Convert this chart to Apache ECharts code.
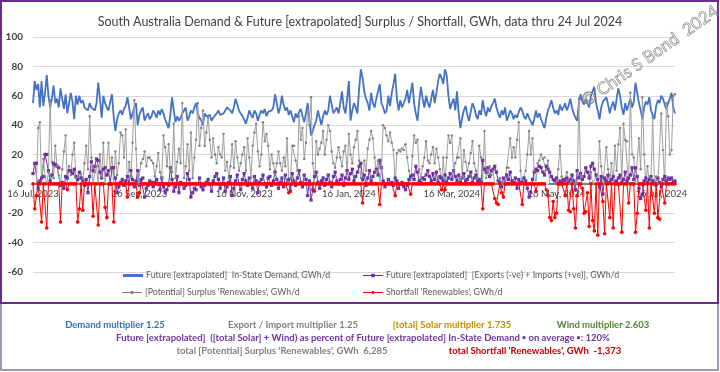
<!DOCTYPE html>
<html><head><meta charset="utf-8">
<script src="https://cdn.jsdelivr.net/npm/echarts@6/dist/echarts.min.js"></script>
<style>html,body{margin:0;padding:0;background:#fff}#c{width:720px;height:372px}</style>
</head><body><div id="c"></div>
<script>
// ---- data ----
const startDate = [2023, 6, 16]; // 16 Jul 2023 (month 0-based)
const dayCount = 375;            // through 24 Jul 2024
const monthNames = ['Jan','Feb','Mar','Apr','May','Jun','Jul','Aug','Sep','Oct','Nov','Dec'];
const tickLabels = ['16 Jul, 2023','16 Sep, 2023','16 Nov, 2023','16 Jan, 2024','16 Mar, 2024','16 May, 2024','16 Jul, 2024'];
const yTicks = { min: -60, max: 100, step: 20 };

// Future [extrapolated] In-State Demand, GWh/d
const demand = [
 55,70,64,68,52,70,53,62,74,60,52,58,67,55,58,52,
 65,58,51,61,48,55,62,56,44,60,54,60,55,57,52,53,50,55,52,53,50,55,69,58,45,60,55,52,50,56,61,
 46,36,44,48,50,47,51,53,59,52,44,48,52,55,40,47,50,52,43,46,48,44,46,50,48,45,50,47,51,48,
 44,41,38,47,59,50,42,46,43,45,48,50,52,43,46,50,48,52,55,48,45,43,40,48,46,45,47,43,45,46,48,
 50,47,46,48,50,52,53,50,48,52,58,54,50,48,46,44,41,45,50,47,45,50,48,43,47,50,48,51,46,49,
 48,50,52,61,55,48,52,60,54,50,52,47,50,46,42,48,45,49,51,46,42,48,55,44,33,36,40,43,50,45,40,
 46,50,47,50,60,54,48,50,52,48,55,63,52,48,58,70,43,50,55,52,48,65,78,72,63,58,55,50,62,55,52,
 58,63,68,55,52,48,50,60,53,62,68,75,58,50,57,52,51,58,64,55,62,69,55,48,43,56,66,58,52,
 60,55,52,58,64,55,62,70,75,72,68,78,74,60,51,55,58,50,63,48,38,45,50,53,47,43,49,55,52,47,44,
 50,47,57,50,46,52,49,53,55,58,52,48,45,50,47,52,43,46,50,48,44,47,45,49,52,50,46,44,48,45,
 46,40,44,50,45,48,44,41,38,45,50,53,57,52,48,50,47,54,50,52,55,50,53,58,52,48,45,43,55,61,56,
 54,58,57,52,60,63,66,55,50,44,52,56,55,59,54,48,53,56,50,58,65,60,52,47,55,50,54,58,52,56,
 69,62,55,50,44,52,56,54,59,50,47,44,53,57,55,60,58,54,51,55,58,62,52,48
];

// Future [extrapolated] [Exports (-ve) + Imports (+ve)], GWh/d
const tradeFlow = [
 7,14,14,-3,2,4,5,20,20,9,2,6,14,13,12,11,
 -1,1,-3,5,4,9,9,7,10,5,3,8,4,2,-1,3,-6,5,15,9,12,17,16,8,4,10,11,6,9,0,11,
 11,4,-6,-2,1,3,-1,2,5,0,9,3,-2,2,9,-1,3,4,-9,-3,-1,2,1,-2,1,3,0,-4,4,-2,
 -6,-4,-1,11,3,-5,-2,5,-6,1,0,-3,-1,7,3,-9,-6,-3,-4,0,4,-2,-4,-1,1,3,0,-5,2,5,7,
 3,-3,0,4,-5,-2,1,5,-8,-3,2,6,0,-4,3,7,2,-1,4,0,-3,5,2,-6,1,3,6,0,-2,4,
 5,-1,2,8,3,-3,1,4,-2,6,0,3,-5,7,2,-1,4,9,1,-2,6,3,-8,2,-11,-4,5,8,1,-3,2,
 4,-1,3,6,1,-2,5,8,2,0,3,6,-1,4,9,3,7,10,2,5,8,12,14,3,6,-1,4,9,2,5,8,
 10,6,16,11,2,-2,0,3,0,1,-1,4,2,-3,0,1,-2,-4,-1,3,5,6,3,12,8,2,1,4,3,
 6,9,5,2,7,3,8,1,5,4,2,6,1,4,7,3,9,5,2,6,1,4,7,2,3,5,8,1,4,6,2,
 3,1,16,10,8,11,5,9,10,12,8,2,1,-2,4,0,6,3,8,2,1,4,-3,3,1,1,4,2,-3,-9,
 -6,3,8,10,9,12,11,8,6,12,10,8,5,3,2,4,0,2,1,3,2,4,1,3,6,2,-4,9,4,7,3,
 5,11,8,4,12,14,10,6,3,-2,5,-7,4,2,6,1,3,5,0,2,4,6,1,3,8,2,4,6,11,3,
 11,5,-3,-10,-7,2,4,1,3,5,2,0,-1,4,1,-2,3,5,2,4,3,4,1,2
];

// [Potential] Surplus 'Renewables', GWh/d
const surplus = [
 0,0,0,38,42,0,17,5,0,8,57,15,4,26,12,6,
 0,10,22,33,0,12,6,20,28,4,0,0,7,0,14,26,10,46,18,0,8,12,0,20,5,28,0,0,28,10,18,
 0,22,6,14,35,33,18,37,0,15,5,28,57,24,0,0,14,17,22,12,18,18,16,14,5,12,21,8,4,33,
 25,12,27,11,8,41,4,15,24,14,55,4,12,27,9,35,4,18,30,55,26,38,50,26,35,45,30,18,31,20,14,
 25,20,18,34,9,15,4,12,27,11,29,18,9,14,20,25,9,31,18,4,26,35,41,22,12,20,42,29,34,26,
 10,20,14,7,14,22,14,9,18,12,31,0,4,26,26,16,9,46,30,38,17,28,51,40,59,14,0,29,20,24,28,
 36,20,30,40,36,22,14,11,18,25,18,12,22,26,7,34,20,14,25,30,36,16,4,0,16,9,24,30,36,31,18,
 9,16,0,11,40,38,33,29,35,28,23,0,21,23,22,24,23,27,18,9,0,19,33,28,30,10,4,12,18,
 29,16,14,20,25,14,24,18,10,0,18,0,18,33,28,33,9,14,18,18,31,4,23,15,9,14,21,29,14,9,4,
 26,18,0,36,4,8,12,6,9,0,0,0,4,0,0,2,11,11,31,18,25,18,30,42,9,0,1,9,20,36,
 20,31,9,0,14,16,20,17,18,10,16,0,0,0,0,0,10,26,5,0,0,8,0,0,2,0,0,0,58,6,0,
 0,0,0,0,8,0,0,5,0,29,12,0,0,25,10,0,14,0,26,9,27,38,0,41,30,29,0,62,20,18,
 0,0,31,10,59,20,0,12,0,4,45,0,5,0,0,48,23,0,55,46,20,23,60,61
];

// Shortfall 'Renewables', GWh/d
const shortfall = [
 0,-17,-8,0,0,-26,0,0,-30,0,0,0,0,0,0,0,
 -26,0,0,0,-4,0,0,0,0,0,-26,-17,0,-18,0,0,0,0,0,-22,0,0,-28,0,0,0,-16,-23,0,0,0,
 -26,0,0,0,0,0,0,0,-9,0,0,0,0,0,-9,-6,0,0,0,0,0,0,0,0,0,0,0,0,0,0,
 0,0,0,0,0,0,0,0,0,0,0,0,0,0,0,0,0,0,0,0,0,0,0,0,0,0,0,0,0,0,0,
 0,0,0,0,0,0,0,0,0,0,0,0,0,0,0,0,0,0,0,0,0,0,0,0,0,0,0,0,0,0,
 0,0,0,0,0,0,0,0,0,0,0,-6,0,0,0,0,0,0,0,0,0,0,0,0,0,0,-5,0,0,0,0,
 0,0,0,0,0,0,0,0,0,0,0,0,0,0,0,0,0,0,0,0,0,0,0,-13,0,0,0,0,0,0,0,
 0,0,-14,0,0,0,0,0,0,0,0,-8,0,0,0,0,0,0,0,0,-7,0,0,0,0,0,0,0,0,
 0,0,0,0,0,0,0,0,0,-4,0,-4,0,0,0,0,0,0,0,0,0,0,0,0,0,0,0,0,0,0,0,
 0,0,-17,0,0,0,0,0,0,-10,-13,-14,0,-6,-9,0,0,0,0,0,0,0,0,0,0,-14,0,0,0,0,
 0,0,0,-5,0,0,0,0,0,-4,-8,-23,-25,-12,-23,-20,0,0,0,0,-8,0,-18,-19,0,-17,-30,-8,0,0,-3,
 -20,-19,-6,-29,0,-25,-32,0,-35,0,0,-12,-34,0,0,-23,0,-30,0,0,0,0,-33,0,0,0,-13,0,0,0,
 -33,-20,0,0,0,0,-18,0,-30,0,0,-20,0,-23,-24,0,0,-13,0,0,0,0,0,0
];

// ---- build ----
const categories = [];
for (let i = 0; i < dayCount; i++) {
  const d = new Date(Date.UTC(startDate[0], startDate[1], startDate[2] + i));
  categories.push(d.getUTCDate() + ' ' + monthNames[d.getUTCMonth()] + ', ' + d.getUTCFullYear());
}
const tickSet = new Set(tickLabels);

const names = [
  'Future [extrapolated]  In-State Demand, GWh/d',
  'Future [extrapolated]  [Exports (-ve) + Imports (+ve)], GWh/d',
  "[Potential] Surplus 'Renewables', GWh/d",
  "Shortfall 'Renewables', GWh/d"
];
const FONT = 'Lato, "Liberation Sans", sans-serif';

const chart = echarts.init(document.getElementById('c'), null, {renderer: 'canvas'});
const warn = [demand, tradeFlow, surplus, shortfall].some(a => a.length !== dayCount);

// grid geometry
const gridTop = 37, gridBottom = 100, chartH = 372;
const plotH = chartH - gridTop - gridBottom;
const zeroOffset = -plotH * (0 - yTicks.min) / (yTicks.max - yTicks.min);

// legend icons: line with a small marker
const ICON_BLUE = 'path://M0,0 L20,0 L20,3 L0,3 Z';
const ICON_PURPLE = 'path://M0,1.3 L20,1.3 L20,2.3 L0,2.3 Z M8.2,0 L11.8,0 L11.8,3.6 L8.2,3.6 Z';
const ICON_GRAY = 'path://M0,1.1 L20,1.1 L20,2.1 L0,2.1 Z M8.6,0 L11.4,0 L11.4,3.2 L8.6,3.2 Z';
const ICON_RED = 'path://M0,1.6 L20,1.6 L20,2.6 L0,2.6 Z M10,0 L12.1,2.1 L10,4.2 L7.9,2.1 Z';

function legendAt(name, left, top, icon, h) {
  return {
    data: [{name: name, icon: icon}], left: left, top: top, itemWidth: 20, itemHeight: h, itemGap: 0,
    selectedMode: false, padding: 0,
    textStyle: {color: '#595959', fontSize: 8.8, fontFamily: FONT, padding: [0, 0, 0, -2]}
  };
}

const bottomTexts = [
  ['Demand multiplier 1.25', 115, 325, '#2E74B5'],
  ['Export / Import multiplier 1.25', 293, 325, '#7F7F7F'],
  ['[total] Solar multiplier 1.735', 452, 325, '#BF9000'],
  ['Wind multiplier 2.603', 603, 325, '#548235'],
  ['Future [extrapolated]  ([total Solar] + Wind) as percent of Future [extrapolated] In-State Demand \u25AA on average \u25AA: 120%', 363, 338, '#7030A0'],
  ["total [Potential] Surplus 'Renewables', GWh  6,285", 282, 351, '#7F7F7F'],
  ["total Shortfall 'Renewables', GWh  -1,373", 535, 351, '#C00000']
];

const graphics = [
  {type: 'rect', shape: {x: 1, y: 303, width: 717, height: 67}, style: {fill: '#fff', stroke: '#A297B6', lineWidth: 2}, z: -10},
  {type: 'rect', shape: {x: 1, y: 1, width: 717, height: 302}, style: {fill: 'rgba(0,0,0,0)', stroke: '#6A2D8E', lineWidth: 2}, z: 10},
  {type: 'text', x: 650, y: 56, rotation: 0.61, z: 20,
   style: {text: '\u00A9 Chris S Bond  2024', fill: 'rgba(255,255,255,0)', stroke: '#8E8E8E', lineWidth: 0.7,
           font: '17px ' + FONT, textAlign: 'center', textVerticalAlign: 'middle'}}
];
bottomTexts.forEach(t => graphics.push({type: 'text', x: t[1], y: t[2], z: 5,
  style: {text: t[0], fill: t[3], font: 'bold 9.5px ' + FONT, textAlign: 'center', textVerticalAlign: 'middle'}}));
if (warn) graphics.push({type: 'text', x: 300, y: 150, style: {text: 'LENGTH MISMATCH ' + [demand.length, tradeFlow.length, surplus.length, shortfall.length].join(','), fill: '#000', font: 'bold 16px sans-serif'}});

chart.setOption({
  animation: false,
  backgroundColor: '#ffffff',
  title: {
    text: 'South Australia Demand & Future [extrapolated] Surplus / Shortfall, GWh, data thru 24 Jul 2024',
    left: 'center', top: 10,
    textStyle: {color: '#404040', fontSize: 12.5, fontWeight: 'normal', fontFamily: FONT}
  },
  grid: {left: 33, right: 45, top: gridTop, bottom: gridBottom, containLabel: false},
  legend: [
    legendAt(names[0], 123, 271, ICON_BLUE, 3),
    legendAt(names[1], 363, 271, ICON_PURPLE, 3.6),
    legendAt(names[2], 122, 288, ICON_GRAY, 3.2),
    legendAt(names[3], 363, 288, ICON_RED, 4.2)
  ],
  xAxis: {
    type: 'category', data: categories, boundaryGap: false, position: 'bottom',
    offset: zeroOffset,
    axisLine: {onZero: false, lineStyle: {color: '#BFBFBF', width: 1}},
    axisTick: {show: false},
    axisLabel: {interval: (idx, val) => tickSet.has(val), margin: 5, color: '#404040', fontSize: 9.5, fontFamily: FONT, hideOverlap: false},
    splitLine: {show: false}
  },
  yAxis: {
    type: 'value', min: yTicks.min, max: yTicks.max, interval: yTicks.step,
    axisLine: {show: false}, axisTick: {show: false},
    axisLabel: {color: '#404040', fontSize: 10, fontWeight: 'bold', fontFamily: FONT, margin: 10},
    splitLine: {lineStyle: {color: '#D9D9D9', width: 1}}
  },
  series: [
    {name: names[0], type: 'line', data: demand, symbol: 'none',
     lineStyle: {color: '#4472C4', width: 1.8}, itemStyle: {color: '#4472C4'}},
    {name: names[1], type: 'line', data: tradeFlow, symbol: 'rect', symbolSize: 3.2, showSymbol: true, showAllSymbol: true,
     lineStyle: {color: '#7030A0', width: 1}, itemStyle: {color: '#7030A0'}},
    {name: names[2], type: 'line', data: surplus, symbol: 'circle', symbolSize: 2.4, showSymbol: true, showAllSymbol: true,
     lineStyle: {color: '#A0A0A0', width: 1}, itemStyle: {color: '#808080'}},
    {name: names[3], type: 'line', data: shortfall, symbol: 'circle', symbolSize: 3.6, showSymbol: true, showAllSymbol: true,
     lineStyle: {color: '#FF0000', width: 1}, itemStyle: {color: '#FF0000'}}
  ],
  graphic: graphics
});
</script></body></html>
